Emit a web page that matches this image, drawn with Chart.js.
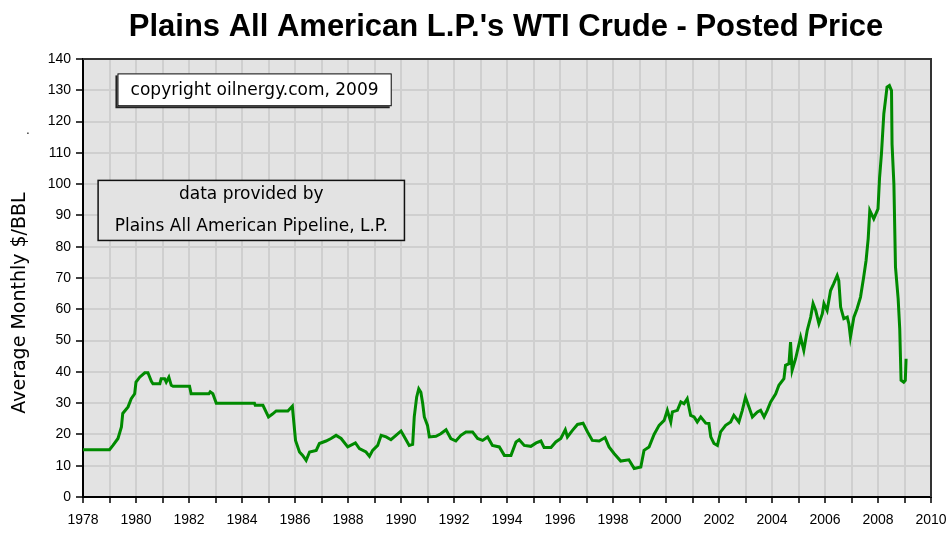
<!DOCTYPE html>
<html>
<head>
<meta charset="utf-8">
<script src="https://cdn.jsdelivr.net/npm/chart.js@4.4.1/dist/chart.umd.min.js"></script>
<style>
html,body{margin:0;padding:0;background:#fff;}
#wrap{width:949px;height:533px;}
</style>
</head>
<body>
<div id="wrap"><canvas id="c" width="949" height="533"></canvas></div>
<script>
const chartTitle = "Plains All American L.P.'s WTI Crude - Posted Price";
const yAxisTitle = "Average Monthly $/BBL";
const noteCopyright = "copyright oilnergy.com, 2009";
const noteSource = ["data provided by", "Plains All American Pipeline, L.P."];

const years = [
 1978.0,1979.0,1979.13,1979.32,1979.45,1979.5,1979.7,1979.82,1979.95,1980.0,
 1980.14,1980.33,1980.45,1980.58,1980.64,1980.9,1980.95,1981.08,1981.14,1981.24,
 1981.33,1981.4,1982.02,1982.08,1982.75,1982.8,1982.9,1983.03,1984.47,1984.5,
 1984.79,1985.0,1985.15,1985.29,1985.73,1985.9,1986.02,1986.17,1986.29,1986.42,
 1986.55,1986.8,1986.92,1987.17,1987.36,1987.55,1987.74,1987.99,1988.28,1988.43,
 1988.68,1988.81,1988.93,1989.12,1989.25,1989.44,1989.62,1989.81,1990.0,1990.13,
 1990.31,1990.44,1990.5,1990.59,1990.67,1990.75,1990.82,1990.88,1991.0,1991.07,
 1991.32,1991.5,1991.7,1991.88,1992.07,1992.26,1992.45,1992.7,1992.89,1993.08,
 1993.27,1993.45,1993.71,1993.9,1994.15,1994.34,1994.46,1994.65,1994.9,1995.1,
 1995.28,1995.4,1995.66,1995.84,1996.03,1996.2,1996.28,1996.47,1996.66,1996.87,
 1997.04,1997.22,1997.48,1997.7,1997.85,1998.04,1998.29,1998.6,1998.8,1999.05,
 1999.17,1999.36,1999.55,1999.74,1999.93,2000.05,2000.18,2000.24,2000.43,2000.56,
 2000.68,2000.8,2000.93,2001.06,2001.18,2001.31,2001.5,2001.62,2001.69,2001.81,
 2001.94,2002.06,2002.25,2002.44,2002.56,2002.75,2002.88,2003.0,2003.13,2003.26,
 2003.45,2003.57,2003.7,2003.82,2003.95,2004.14,2004.26,2004.45,2004.51,2004.64,
 2004.7,2004.76,2004.89,2005.08,2005.2,2005.33,2005.46,2005.55,2005.65,2005.77,
 2005.9,2005.96,2006.08,2006.21,2006.33,2006.46,2006.52,2006.59,2006.71,2006.84,
 2006.9,2006.96,2007.09,2007.21,2007.34,2007.46,2007.55,2007.63,2007.69,2007.84,
 2008.0,2008.06,2008.13,2008.22,2008.28,2008.34,2008.43,2008.51,2008.53,2008.6,
 2008.66,2008.76,2008.82,2008.87,2008.97,2009.03,2009.06
];
const prices = [
 15.1,15.1,16.5,18.7,22.4,26.7,28.8,31.4,33.0,36.7,
 38.3,39.7,39.7,37.0,36.2,36.2,37.8,37.8,36.7,38.3,
 35.7,35.4,35.4,33.0,33.0,33.6,33.0,30.0,30.0,29.3,
 29.3,25.6,26.5,27.5,27.5,29.0,18.1,14.4,13.3,11.7,
 14.4,14.9,17.1,17.9,18.7,19.7,18.7,16.0,17.3,15.5,
 14.4,13.0,14.9,16.5,19.7,19.2,18.3,19.7,21.1,19.2,
 16.5,16.8,25.6,31.9,34.6,33.5,29.8,25.6,22.9,19.2,
 19.4,20.2,21.5,18.7,17.9,19.7,20.8,20.8,18.7,18.1,
 19.2,16.5,16.0,13.3,13.3,17.6,18.3,16.5,16.2,17.3,
 17.9,15.8,15.8,17.6,18.7,21.5,19.2,21.3,23.2,23.6,
 20.8,18.1,17.9,19.0,16.0,13.9,11.5,11.9,9.1,9.6,
 14.9,16.0,20.0,22.9,24.5,27.7,24.0,27.2,27.7,30.4,
 29.8,31.4,26.1,25.6,24.0,25.6,23.6,23.5,19.2,17.1,
 16.5,20.8,22.9,24.0,26.1,24.0,27.7,31.9,28.8,25.6,
 27.2,27.7,25.6,27.7,30.4,33.0,35.7,37.8,42.1,42.6,
 49.5,40.5,44.2,51.1,46.9,53.3,57.5,61.8,59.6,55.4,
 58.6,61.8,59.6,66.0,68.2,70.8,69.2,60.7,57.0,57.5,
 55.4,51.1,57.5,60.2,63.9,70.3,75.6,82.6,91.6,88.9,
 92.1,102.2,109.7,122.5,126.7,131.0,131.5,129.9,112.8,100.0,
 73.5,63.4,53.8,37.3,36.7,37.3,44.2
];
const xLabelYears = [1978,1980,1982,1984,1986,1988,1990,1992,1994,1996,1998,2000,2002,2004,2006,2008,2010];
const yTickValues = [0,10,20,30,40,50,60,70,80,90,100,110,120,130,140];

const FONT = "'Liberation Sans', Arial, sans-serif";
const NOTE_FONT = "'DejaVu Sans', Verdana, sans-serif";
const PLOT_BG = '#e3e3e3';

const decor = {
  id: 'decor',
  beforeDraw(chart) {
    const {ctx, chartArea: a} = chart;
    ctx.save();
    ctx.fillStyle = PLOT_BG;
    ctx.fillRect(a.left, a.top, a.right - a.left, a.bottom - a.top);
    ctx.restore();
  },
  afterDraw(chart) {
    const {ctx, chartArea: a} = chart;
    const xs = chart.scales.x, ys = chart.scales.y;
    ctx.save();
    // title
    ctx.fillStyle = '#000';
    ctx.font = 'bold 31px ' + FONT;
    ctx.textAlign = 'center'; ctx.textBaseline = 'alphabetic';
    ctx.fillText(chartTitle, 506, 36);

    // top & right frame
    ctx.strokeStyle = '#333';
    ctx.lineWidth = 2;
    ctx.beginPath();
    ctx.moveTo(a.left, a.top); ctx.lineTo(a.right, a.top); ctx.lineTo(a.right, a.bottom);
    ctx.stroke();

    // copyright box (anchored in data coordinates)
    let x1 = xs.getPixelForValue(1979.3), x2 = xs.getPixelForValue(1989.65);
    let y1 = ys.getPixelForValue(135.4), y2 = ys.getPixelForValue(124.9);
    ctx.fillStyle = '#222';
    ctx.fillRect(x1 - 2, y1 + 2, x2 - x1, y2 - y1);
    ctx.fillStyle = '#fff';
    ctx.fillRect(x1, y1, x2 - x1, y2 - y1);
    ctx.strokeStyle = '#000'; ctx.lineWidth = 1;
    ctx.strokeRect(x1 + 0.5, y1 + 0.5, x2 - x1 - 1, y2 - y1 - 1);
    ctx.fillStyle = '#000';
    ctx.font = '17px ' + NOTE_FONT;
    ctx.textAlign = 'center'; ctx.textBaseline = 'middle';
    ctx.fillText(noteCopyright, (x1 + x2) / 2, (y1 + y2) / 2 + 1);

    // data source box
    x1 = xs.getPixelForValue(1978.57); x2 = xs.getPixelForValue(1990.13);
    y1 = ys.getPixelForValue(101.2); y2 = ys.getPixelForValue(82.0);
    ctx.fillStyle = PLOT_BG;
    ctx.fillRect(x1, y1, x2 - x1, y2 - y1);
    ctx.strokeStyle = '#111'; ctx.lineWidth = 1.5;
    ctx.strokeRect(x1, y1, x2 - x1, y2 - y1);
    ctx.fillStyle = '#000';
    ctx.font = '17px ' + NOTE_FONT;
    ctx.fillText(noteSource[0], (x1 + x2) / 2, y1 + 14);
    ctx.fillText(noteSource[1], (x1 + x2) / 2, y1 + 46);

    // y axis title
    ctx.translate(20, 303);
    ctx.rotate(-Math.PI / 2);
    ctx.font = '19px ' + NOTE_FONT;
    ctx.fillStyle = '#000';
    ctx.textAlign = 'center'; ctx.textBaseline = 'middle';
    ctx.fillText(yAxisTitle, 0, 0);
    ctx.restore();
    ctx.save();
    ctx.fillStyle = '#000';
    ctx.font = '12px ' + FONT;
    ctx.textAlign = 'center';
    ctx.fillText('.', 28, 134);
    ctx.restore();
  }
};

new Chart(document.getElementById('c'), {
  type: 'line',
  data: {
    datasets: [{
      data: years.map((y, i) => ({x: y, y: prices[i]})),
      borderColor: '#008a00',
      borderWidth: 3,
      pointRadius: 0,
      tension: 0,
      fill: false
    }]
  },
  options: {
    responsive: false,
    animation: false,
    devicePixelRatio: 1,
    layout: {padding: {left: 0, right: 18, top: 59, bottom: 0}},
    plugins: {
      legend: {display: false},
      tooltip: {enabled: false},
      title: {display: false}
    },
    scales: {
      x: {
        type: 'linear',
        min: 1978, max: 2010,
        afterFit(s) { s.height = 36; s.paddingLeft = 0; s.paddingRight = 0; },
        afterBuildTicks(s) {
          const t = [];
          for (let v = 1978; v <= 2010; v++) t.push({value: v});
          s.ticks = t;
        },
        ticks: {
          autoSkip: false, maxRotation: 0, minRotation: 0,
          color: '#000', padding: 9,
          font: {family: FONT, size: 14},
          callback: v => xLabelYears.includes(v) ? String(v) : ''
        },
        grid: {color: '#cfcfcf', lineWidth: 2, tickColor: '#000', tickLength: 6, tickWidth: 1.5},
        border: {display: true, color: '#000', width: 2}
      },
      y: {
        min: 0, max: 140,
        afterFit(s) { s.width = 83; s.paddingTop = 0; s.paddingBottom = 0; },
        afterBuildTicks(s) { s.ticks = yTickValues.map(v => ({value: v})); },
        ticks: {
          color: '#000', padding: 5,
          font: {family: FONT, size: 14},
          callback: v => String(v)
        },
        grid: {color: '#cfcfcf', lineWidth: 2, tickColor: '#000', tickLength: 7, tickWidth: 1.5},
        border: {display: true, color: '#000', width: 2}
      }
    }
  },
  plugins: [decor]
});
</script>
</body>
</html>
